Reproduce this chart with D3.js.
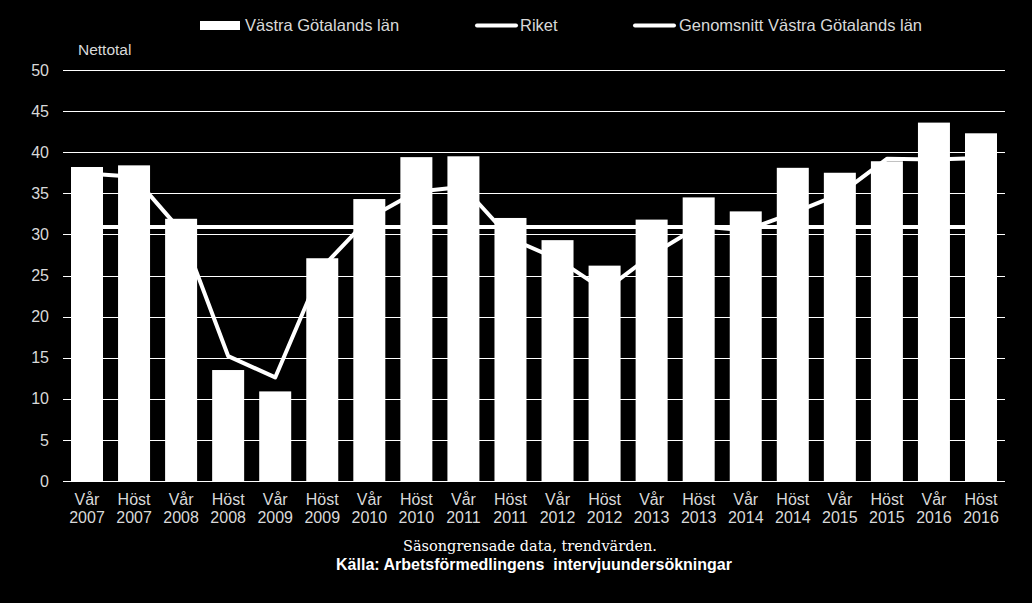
<!DOCTYPE html>
<html>
<head>
<meta charset="utf-8">
<script src="https://cdn.jsdelivr.net/npm/d3@7"></script>
<style>
  html, body { margin: 0; padding: 0; background: #000; }
  svg { display: block; }
  text { font-family: 'Liberation Sans', Arial, sans-serif; }
</style>
</head>
<body>
<svg id="chart"></svg>
<script>
const seasons = ['Vår', 'Höst', 'Vår', 'Höst', 'Vår', 'Höst', 'Vår', 'Höst', 'Vår', 'Höst',
    'Vår', 'Höst', 'Vår', 'Höst', 'Vår', 'Höst', 'Vår', 'Höst', 'Vår', 'Höst']
const years = ['2007', '2007', '2008', '2008', '2009', '2009', '2010', '2010', '2011', '2011',
    '2012', '2012', '2013', '2013', '2014', '2014', '2015', '2015', '2016', '2016']
const vastra = [38.2, 38.4, 31.9, 13.5, 10.9, 27.1, 34.3, 39.4, 39.5, 32.0,
    29.3, 26.2, 31.8, 34.5, 32.8, 38.1, 37.5, 38.9, 43.6, 42.3]
const riket = [37.4, 37.0, 30.4, 15.2, 12.6, 26.0, 32.0, 35.2, 35.8, 29.5,
    27.0, 23.2, 27.5, 31.0, 30.5, 32.6, 34.9, 39.2, 39.1, 39.3]
const genomsnitt = 30.9
const yTicks = [0, 5, 10, 15, 20, 25, 30, 35, 40, 45, 50]

const width = 1032
const height = 603
const margin = { top: 70, left: 63, bottom: 122, right: 27 }
const iwidth = width - margin.left - margin.right
const iheight = height - margin.top - margin.bottom

const cats = seasons.map((s, i) => s + ' ' + years[i] + '#' + i)
const data = cats.map((c, i) => ({ key: c, season: seasons[i], year: years[i], v: vastra[i], r: riket[i] }))

const svg = d3.select('#chart').attr('width', width).attr('height', height)
svg.append('rect').attr('width', width).attr('height', height).attr('fill', '#000')

const g = svg.append('g').attr('transform', `translate(${margin.left},${margin.top})`)

const x = d3.scaleBand().domain(cats).range([0, iwidth]).paddingInner(0.32).paddingOuter(0.17)
const y = d3.scaleLinear().domain([0, 50]).range([iheight, 0])
const cx = (d) => x(d.key) + x.bandwidth() / 2

// gridlines
g.append('g')
    .selectAll('line')
    .data(yTicks)
    .enter()
    .append('line')
    .attr('x1', 0)
    .attr('x2', iwidth)
    .attr('y1', (d) => Math.round(y(d)) + 0.5)
    .attr('y2', (d) => Math.round(y(d)) + 0.5)
    .attr('stroke', '#fff')
    .attr('stroke-width', 1)

// y axis labels
const yAxis = g.append('g')
    .attr('transform', 'translate(-14,0)')
    .call(d3.axisLeft(y).tickValues(yTicks).tickSize(0).tickPadding(0))
yAxis.select('.domain').remove()
yAxis.selectAll('text')
    .attr('fill', '#d9d9d9')
    .style('font-size', '16px')
    .style('font-family', "'Liberation Sans', Arial, sans-serif")

g.append('text')
    .attr('x', 15)
    .attr('y', -15)
    .attr('fill', '#d9d9d9')
    .style('font-size', '15.5px')
    .text('Nettotal')

// average line (behind bars)
const line = d3.line().x((d) => cx(d)).y((d) => y(d.val))
g.append('path')
    .datum([{ key: cats[0], val: genomsnitt }, { key: cats[cats.length - 1], val: genomsnitt }])
    .attr('d', line)
    .attr('fill', 'none')
    .attr('stroke', '#fff')
    .attr('stroke-width', 4)

// bars
g.selectAll('rect.bar')
    .data(data)
    .enter()
    .append('rect')
    .attr('class', 'bar')
    .attr('x', (d) => x(d.key))
    .attr('y', (d) => y(d.v))
    .attr('width', x.bandwidth())
    .attr('height', (d) => iheight - y(d.v))
    .attr('fill', '#fff')

// riket line
g.append('path')
    .datum(data.map((d) => ({ key: d.key, val: d.r })))
    .attr('d', line)
    .attr('fill', 'none')
    .attr('stroke', '#fff')
    .attr('stroke-width', 4)
    .attr('stroke-linejoin', 'round')

// x labels
const xl = g.append('g').attr('transform', `translate(0,${iheight})`)
const lab = xl.selectAll('text')
    .data(data)
    .enter()
    .append('text')
    .attr('text-anchor', 'middle')
    .attr('fill', '#d9d9d9')
    .style('font-size', '16px')
    .attr('x', (d) => cx(d))
lab.append('tspan').attr('x', (d) => cx(d)).attr('y', 24).text((d) => d.season)
lab.append('tspan').attr('x', (d) => cx(d)).attr('y', 42).text((d) => d.year)

// legend
const lg = svg.append('g')
lg.append('rect').attr('x', 200).attr('y', 21).attr('width', 40).attr('height', 9).attr('fill', '#fff')
lg.append('text').attr('x', 245).attr('y', 31).attr('fill', '#d9d9d9').style('font-size', '16.5px').text('Västra Götalands län')
lg.append('line').attr('x1', 477).attr('x2', 516).attr('y1', 25.5).attr('y2', 25.5)
    .attr('stroke', '#fff').attr('stroke-width', 4).attr('stroke-linecap', 'round')
lg.append('text').attr('x', 520).attr('y', 31).attr('fill', '#d9d9d9').style('font-size', '16.5px').text('Riket')
lg.append('line').attr('x1', 635).attr('x2', 674).attr('y1', 25.5).attr('y2', 25.5)
    .attr('stroke', '#fff').attr('stroke-width', 4).attr('stroke-linecap', 'round')
lg.append('text').attr('x', 679).attr('y', 31).attr('fill', '#d9d9d9').style('font-size', '16.5px').text('Genomsnitt Västra Götalands län')

// footnotes
svg.append('text')
    .attr('x', 530).attr('y', 551)
    .attr('text-anchor', 'middle')
    .attr('fill', '#fff')
    .style('font-family', "'DejaVu Serif', serif")
    .style('font-size', '14.5px')
    .text('Säsongrensade data, trendvärden.')
svg.append('text')
    .attr('x', 534).attr('y', 570)
    .attr('text-anchor', 'middle')
    .attr('fill', '#fff')
    .style('font-size', '16px')
    .style('font-weight', 'bold')
    .style('white-space', 'pre')
    .text('Källa: Arbetsförmedlingens  intervjuundersökningar')
</script>
</body>
</html>
